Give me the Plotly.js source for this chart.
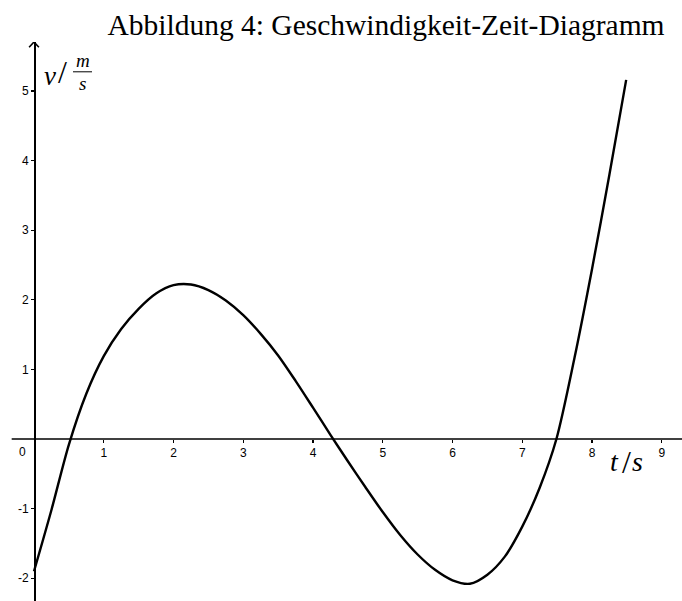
<!DOCTYPE html>
<html>
<head>
<meta charset="utf-8">
<script src="https://cdn.plot.ly/plotly-3.0.1.min.js"></script>
<style>
  html, body { margin: 0; padding: 0; background: #fff; }
  #chart { width: 682px; height: 601px; }
</style>
</head>
<body>
<div id="chart"></div>
<script>
// Zeit t in s und Geschwindigkeit v in m/s
const t = [0, 0.25, 0.5, 0.75, 1, 1.25, 1.5, 1.75, 2, 2.25, 2.5, 2.75, 3, 3.25, 3.5, 3.75,
           4, 4.25, 4.5, 4.75, 5, 5.25, 5.5, 5.75, 6, 6.25, 6.5, 6.75, 7, 7.25, 7.49,
           7.75, 8, 8.25, 8.49];
const v = [-1.90, -1.02, -0.08, 0.65, 1.19, 1.58, 1.87, 2.09, 2.21, 2.22, 2.14, 1.99, 1.78,
           1.51, 1.20, 0.835, 0.45, 0.06, -0.32, -0.69, -1.05, -1.38, -1.66, -1.88, -2.03,
           -2.08, -1.95, -1.69, -1.26, -0.70, 0, 1.17, 2.44, 3.80, 5.16];

const xTicks = [1, 2, 3, 4, 5, 6, 7, 8, 9];
const xTickText = ['1', '2', '3', '4', '5', '6', '7', '8', '9'];
const yTicks = [-2, -1, 1, 2, 3, 4, 5];
const yTickText = ['-2', '-1', '1', '2', '3', '4', '5'];

const W = 682, H = 601, TOP = 42;
const X_RANGE = [-0.4875, 9.2904];
const Y_RANGE = [-2.328, 5.704];

// pixel -> paper helpers for the free-floating labels
const px = p => p / W;
const py = p => (H - p) / (H - TOP);

const tickFont = { family: 'Liberation Sans, Arial, sans-serif', size: 12, color: '#000' };
const mathFont = size => ({ family: 'Liberation Serif, Times New Roman, serif', size: size, color: '#000' });

function label(text, x, y, size) {
  return { text: text, xref: 'paper', yref: 'paper', x: px(x), y: py(y),
           xanchor: 'center', yanchor: 'middle', showarrow: false, font: mathFont(size) };
}

const trace = {
  x: t, y: v,
  type: 'scatter', mode: 'lines',
  line: { color: '#000', width: 2.4, shape: 'spline', smoothing: 0.8 },
  hoverinfo: 'skip'
};

const layout = {
  width: W, height: H,
  margin: { l: 0, r: 0, t: TOP, b: 0, pad: 0 },
  paper_bgcolor: '#fff', plot_bgcolor: '#fff',
  showlegend: false,
  title: {
    text: 'Abbildung 4: Geschwindigkeit-Zeit-Diagramm',
    font: { family: 'Liberation Serif, Times New Roman, serif', size: 29.5, color: '#000' },
    xref: 'container', yref: 'container',
    x: 386 / W, xanchor: 'center',
    y: 1 - 25 / H, yanchor: 'middle'
  },
  xaxis: {
    range: X_RANGE, anchor: 'free',
    position: (0 - Y_RANGE[0]) / (Y_RANGE[1] - Y_RANGE[0]),
    showgrid: false, zeroline: false, showline: false,
    ticks: 'outside', ticklen: 3, tickwidth: 1.2, tickcolor: '#000',
    tickvals: xTicks, ticktext: xTickText, tickfont: tickFont,
    fixedrange: true
  },
  yaxis: {
    range: Y_RANGE, anchor: 'free',
    position: (0 - X_RANGE[0]) / (X_RANGE[1] - X_RANGE[0]),
    showgrid: false, zeroline: false,
    showline: true, linecolor: '#000', linewidth: 1.6,
    ticks: 'outside', ticklen: 3, tickwidth: 1.2, tickcolor: '#000',
    tickvals: yTicks, ticktext: yTickText, tickfont: tickFont,
    fixedrange: true
  },
  shapes: [
    // horizontal time axis
    { type: 'line', xref: 'x', yref: 'y', x0: -0.32, x1: X_RANGE[1], y0: 0, y1: 0,
      line: { color: '#000', width: 1.6 } },
    // open arrow head on the v axis
    { type: 'path', xref: 'x', yref: 'y',
      path: 'M -0.07,' + (Y_RANGE[1] - 0.075) + ' L 0,' + Y_RANGE[1] + ' L 0.07,' + (Y_RANGE[1] - 0.075),
      line: { color: '#000', width: 1.6 } },
    // fraction bar of m/s
    { type: 'line', xref: 'paper', yref: 'paper', x0: px(73), x1: px(92), y0: py(71.8), y1: py(71.8),
      line: { color: '#000', width: 1 } }
  ],
  annotations: [
    { text: '0', xref: 'paper', yref: 'paper', x: px(22), y: py(452),
      xanchor: 'center', yanchor: 'middle', showarrow: false, font: tickFont },
    label('<i>v</i>', 50, 76, 27),
    label('/', 62.5, 72, 32),
    label('<i>m</i>', 82.5, 60.3, 19),
    label('<i>s</i>', 82.5, 83.7, 19),
    label('<i>t</i>', 614, 461, 28),
    label('/', 626, 462, 32),
    label('<i>s</i>', 637.5, 461, 28)
  ]
};

Plotly.newPlot('chart', [trace], layout, { displayModeBar: false, staticPlot: true });
</script>
</body>
</html>
